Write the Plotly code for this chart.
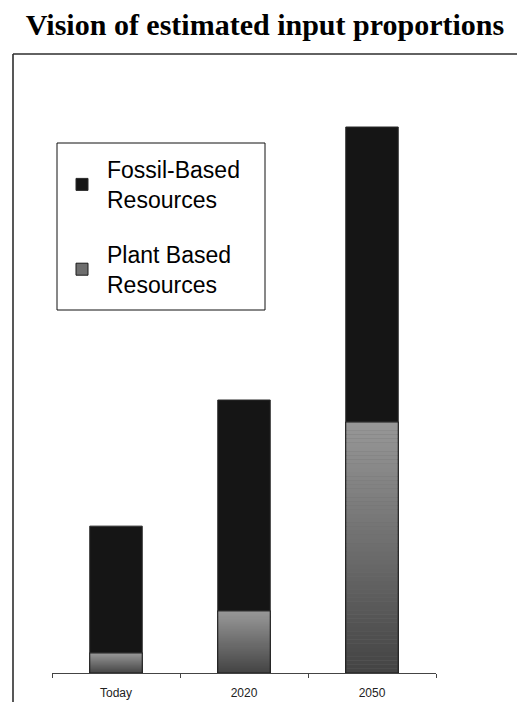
import plotly.graph_objects as go

# Chart data
categories = ["Today", "2020", "2050"]
plant_based = [3.7, 11.4, 46.0]
fossil_based = [23.2, 38.6, 54.0]

# Figure geometry (pixels)
W, H = 517, 702
ML, MR, MT, MB = 52, 81, 80, 29
PW, PH = W - ML - MR, H - MT - MB
PX_PER_UNIT = 5.46
Y_TOP = PH / PX_PER_UNIT

BAR_W = 0.41
N_SLICES = 60
GRAD_TOP = (0x98, 0x98, 0x98)
GRAD_BOT = (0x43, 0x43, 0x43)


def mix(c0, c1, t):
    r, g, b = (round(a + (b_ - a) * t) for a, b_ in zip(c0, c1))
    return f"rgb({r},{g},{b})"


def px_x(p):
    return (p - ML) / PW


def px_y(p):
    return (H - MB - p) / PH


fig = go.Figure()

# Legend entry + base fill for the plant-based segment
fig.add_trace(go.Bar(
    x=categories, y=plant_based, base=[0] * len(categories),
    name="Plant Based<br>Resources", width=BAR_W,
    marker=dict(color="#6e6e6e", line=dict(color="#1a1a1a", width=1)),
    legendgroup="plant", legendrank=2, hoverinfo="skip",
))

# Vertical shading of each plant-based bar, built as thin stacked bands
for k in range(N_SLICES):
    t = 1 - (k + 0.5) / N_SLICES  # 1 at bottom band, 0 at top band
    fig.add_trace(go.Bar(
        x=categories,
        y=[v / N_SLICES for v in plant_based],
        base=[v * k / N_SLICES for v in plant_based],
        width=BAR_W,
        marker=dict(color=mix(GRAD_TOP, GRAD_BOT, t), line=dict(width=0)),
        showlegend=False, hoverinfo="skip",
    ))

# Outline drawn over the shaded bands
fig.add_trace(go.Bar(
    x=categories, y=plant_based, base=[0] * len(categories), width=BAR_W,
    marker=dict(color="rgba(0,0,0,0)", line=dict(color="#1a1a1a", width=1)),
    showlegend=False, hovertemplate="%{x}: %{y}<extra>Plant Based</extra>",
))

# Fossil-based segment stacked on top
fig.add_trace(go.Bar(
    x=categories, y=fossil_based, base=plant_based,
    name="Fossil-Based<br>Resources", width=BAR_W,
    marker=dict(color="#151515", line=dict(color="#2a2a2a", width=1)),
    legendgroup="fossil", legendrank=1,
    hovertemplate="%{x}: %{y}<extra>Fossil-Based</extra>",
))

# Outer frame: only the left and top edges fall inside the page
frame = dict(type="line", xref="paper", yref="paper",
             line=dict(color="#2e2e2e", width=1.6), layer="above")
fig.add_shape(**frame, x0=px_x(13), x1=px_x(13), y0=px_y(54), y1=px_y(720))
fig.add_shape(**frame, x0=px_x(13), x1=px_x(540), y0=px_y(54), y1=px_y(54))

# Legend box
fig.add_shape(type="rect", xref="paper", yref="paper",
              x0=px_x(57), x1=px_x(265), y0=px_y(310), y1=px_y(143),
              line=dict(color="#111", width=1), fillcolor="white", layer="above")

fig.update_layout(
    width=W, height=H,
    margin=dict(l=ML, r=MR, t=MT, b=MB, pad=0, autoexpand=False),
    paper_bgcolor="white", plot_bgcolor="white",
    barmode="overlay",
    title=dict(
        text="Vision of estimated input proportions",
        font=dict(family="Liberation Serif", size=30, color="black", weight="bold"),
        x=265 / W, xanchor="center", xref="container",
        y=1 - 14 / H, yanchor="top", yref="container",
    ),
    showlegend=True,
    legend=dict(
        x=px_x(57), y=px_y(148), xanchor="left", yanchor="top",
        bgcolor="rgba(0,0,0,0)", borderwidth=0,
        font=dict(family="Liberation Sans", size=23, color="black"),
        tracegroupgap=22, traceorder="grouped", itemwidth=40,
    ),
    xaxis=dict(
        range=[-0.5, 2.5], showline=True, linecolor="#444", linewidth=1,
        ticks="outside", tickson="boundaries", ticklen=4, tickcolor="#444",
        tickfont=dict(family="Liberation Sans", size=12, color="#222"),
        ticklabelstandoff=9, automargin=False,
        showgrid=False, zeroline=False, fixedrange=True,
    ),
    yaxis=dict(
        range=[0, Y_TOP], visible=False, showgrid=False, zeroline=False,
        fixedrange=True, automargin=False,
    ),
)

fig.write_html("out.html")
